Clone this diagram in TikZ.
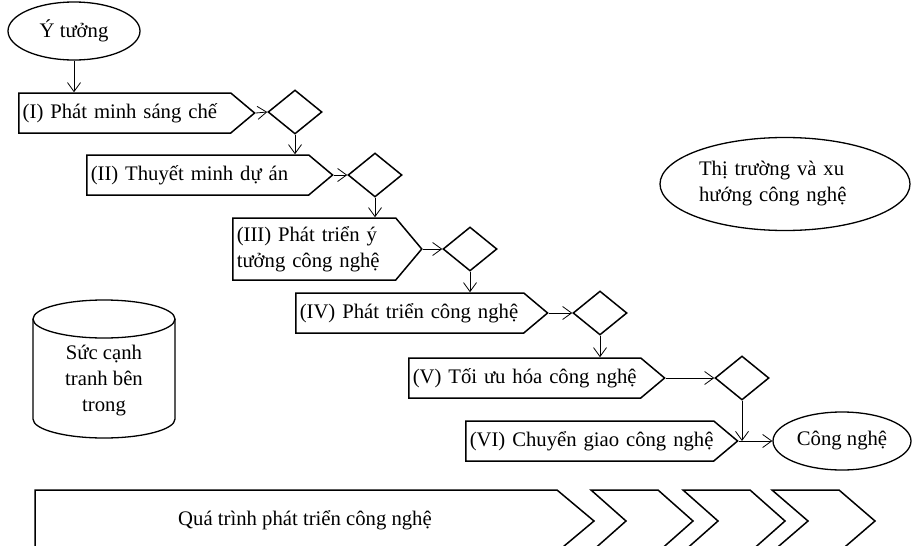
\documentclass[tikz,border=0pt]{standalone}
\usepackage{fontspec}
\setmainfont{Liberation Serif}
\usetikzlibrary{shapes.geometric,shapes.symbols,arrows.meta}
\tikzset{>={Straight Barb[length=9pt,width=13pt]}}
\tikzset{stepbox/.style = {shape=signal,signal to=east,signal pointer angle=80,draw,line width=1.5pt,minimum height=40pt,inner xsep=4pt,align=left}}
\tikzset{gate/.style = {shape=diamond,draw,line width=1.5pt,minimum width=54pt,minimum height=44pt,inner sep=0pt}}
\tikzset{goal/.style = {shape=ellipse,draw,line width=1.3pt,inner sep=0pt}}
\tikzset{flow/.style = {->,line width=0.8pt}}

\begin{document}
\begin{tikzpicture}[x=1pt,y=-1pt,font=\fontsize{20.7}{26}\selectfont]
                    \useasboundingbox (0,0) rectangle (913,546);

                    \node[goal,minimum width=132pt,minimum height=58pt] (idea) at (74,31) {Ý tưởng};

                    \node[stepbox,anchor=west,text width=204pt] (s1) at (18,113) {\mbox{(I) Phát minh sáng chế}};
                    \node[stepbox,anchor=west,text width=214pt] (s2) at (86,175) {\mbox{(II) Thuyết minh dự án}};
                    \node[stepbox,anchor=west,text width=155pt,minimum height=62pt,signal pointer angle=100] (s3) at (232,249) {(III) Phát triển ý\\tưởng công nghệ};
                    \node[stepbox,anchor=west,text width=220pt] (s4) at (295,313) {\mbox{(IV) Phát triển công nghệ}};
                    \node[stepbox,anchor=west,text width=224pt] (s5) at (408,378) {\mbox{(V) Tối ưu hóa công nghệ}};
                    \node[stepbox,anchor=west,text width=240pt] (s6) at (465,441) {\mbox{(VI) Chuyển giao công nghệ}};

                    \node[gate] (d1) at (295,112) {};
                    \node[gate] (d2) at (375,175) {};
                    \node[gate] (d3) at (470,249) {};
                    \node[gate] (d4) at (600,313) {};
                    \node[gate] (d5) at (742,378) {};

                    \node[goal,minimum width=138pt,minimum height=58pt] (tech) at (842,441) {Công nghệ};
                    \node[goal,minimum width=250pt,minimum height=93pt,text width=172pt,align=left] (market) at (785,184) {Thị trường và xu\\hướng công nghệ};

                    % cylinder
                    \draw[line width=1.3pt] (33,319) -- (33,419) arc[start angle=180,end angle=0,x radius=71,y radius=19] -- (175,319);
                    \draw[line width=1.3pt] (104,319) ellipse[x radius=71,y radius=19];
                    \node[align=center] (inner) at (104,381) {Sức cạnh\\tranh bên\\trong};

                    \coordinate (join) at (d5.south |- s6.east);

                    \draw[flow] (idea.south) -- (idea.south |- s1.north);
                    \draw[flow] (s1.east) -- (d1.west);
                    \draw[flow] (d1.south) -- (d1.south |- s2.north);
                    \draw[flow] (s2.east) -- (d2.west);
                    \draw[flow] (d2.south) -- (d2.south |- s3.north);
                    \draw[flow] (s3.east) -- (d3.west);
                    \draw[flow] (d3.south) -- (d3.south |- s4.north);
                    \draw[flow] (s4.east) -- (d4.west);
                    \draw[flow] (d4.south) -- (d4.south |- s5.north);
                    \draw[flow] (s5.east) -- (d5.west);
                    \draw[flow] (d5.south) -- (join);
                    \draw[flow] (s6.east) -- (tech.west);

                    % process bar along the bottom
                    \begin{scope}
                    \clip (0,0) rectangle (913,546);
                    \draw[line width=1.5pt] (35,552) -- (35,490) -- (557,490) -- (594,521) -- (557,552) -- cycle;
                    \draw[line width=1.5pt] (591,490) -- (658,490) -- (693,521) -- (658,552) -- (591,552) -- (626,521) -- cycle;
                    \draw[line width=1.5pt] (683,490) -- (750,490) -- (785,521) -- (750,552) -- (683,552) -- (718,521) -- cycle;
                    \draw[line width=1.5pt] (772,490) -- (839,490) -- (875,521) -- (839,552) -- (772,552) -- (808,521) -- cycle;
                    \end{scope}
                    \node (proc) at (305,520) {Quá trình phát triển công nghệ};
                \end{tikzpicture}
\end{document}
